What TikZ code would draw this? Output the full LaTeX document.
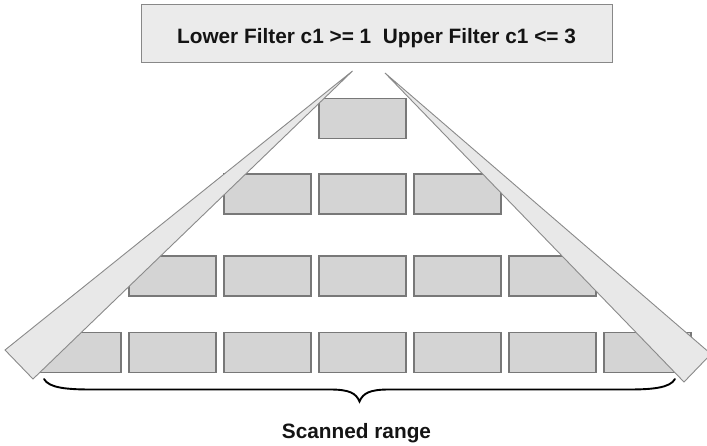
\documentclass[tikz,border=0pt]{standalone}
\usepackage{fontspec}
\setmainfont{Liberation Sans}
\definecolor{cellfill}{HTML}{D4D4D4}
\definecolor{cellline}{HTML}{787878}
\definecolor{wedgefill}{HTML}{E8E8E8}
\definecolor{wedgeline}{HTML}{8A8A8A}
\definecolor{headfill}{HTML}{EBEBEB}
\definecolor{headline}{HTML}{888888}
\begin{document}
\begin{tikzpicture}[x=1pt,y=-1pt,
  cell/.style={draw=cellline, fill=cellfill, line width=1.3pt,
    minimum width=87pt, minimum height=40pt, inner sep=0pt, outer sep=0pt},
  head/.style={draw=headline, fill=headfill, line width=1.3pt,
    minimum width=471pt, minimum height=58pt, inner sep=0pt},
  wedge/.style={draw=wedgeline, fill=wedgefill, line width=0.9pt, line join=miter},
  brace/.style={draw=black, line width=1.9pt, line cap=round},
  label/.style={font=\fontsize{20.8}{24}\selectfont\bfseries, text=black!92, inner sep=0pt}]
\useasboundingbox (0,0) rectangle (707,445);
\clip (0,0) rectangle (707,445);

% filter header
\node[head] (filter) at (377,33.5) {};
\node[label, anchor=base] (filtertext) at (376.5,43)
  {Lower Filter c1 >= 1\ \ Upper Filter c1 <= 3};

% index pages, one row per level
\node[cell] (r1c1) at (362.5,118.5) {};
\foreach \i in {1,...,3}
  \node[cell] (r2c\i) at ({362.5+95*(\i-2)},194) {};
\foreach \i in {1,...,5}
  \node[cell] (r3c\i) at ({362.5+95*(\i-3)},276) {};
\foreach \i in {1,...,7}
  \node[cell] (r4c\i) at ({362.5+95*(\i-4)},352.5) {};

% lower and upper filter wedges
\coordinate (lapex) at (352.5,71);
\coordinate (lout) at (5,350);
\coordinate (lin) at (33,379);
\coordinate (rapex) at (385,73);
\coordinate (rin) at (684,382);
\coordinate (rout) at (711,354);
\path[wedge] (lapex) -- (lout) -- (lin) -- cycle;
\path[wedge] (rapex) -- (rin) -- (rout) -- cycle;

% brace under the scanned leaf pages
\coordinate (bl) at (44,379);
\coordinate (br) at (675,379);
\coordinate (btip) at (359.5,401.5);
\path[brace] (bl) .. controls (49,388) and (67,389.5) .. (92,389.5)
  -- (330,389.5) .. controls (349,389.5) and (356,393) .. (btip)
  .. controls (363,393) and (370,389.5) .. (389,389.5)
  -- (628,389.5) .. controls (652,389.5) and (670,388) .. (br);

\node[label, anchor=base] (scanned) at (356.5,438) {Scanned range};
\end{tikzpicture}
\end{document}
